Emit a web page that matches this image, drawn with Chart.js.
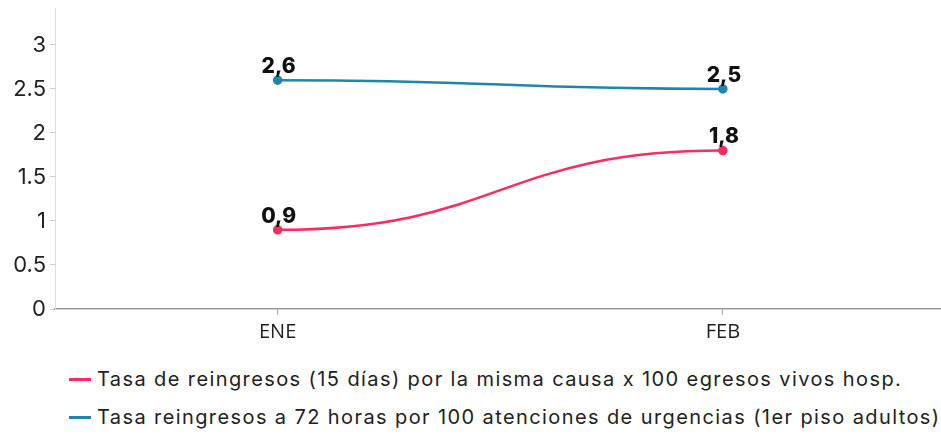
<!DOCTYPE html>
<html>
<head>
<meta charset="utf-8">
<script src="https://cdn.jsdelivr.net/npm/chart.js@4"></script>
<style>
  html, body { margin: 0; padding: 0; background: #fff; overflow: hidden; }
  #wrap { position: relative; width: 941px; height: 436px; overflow: hidden; }
  #chart { position: absolute; left: 0; top: 0; }
  #legend { position: absolute; left: 69px; top: 360px; font-family: Inter, sans-serif; font-size: 20px; letter-spacing: 1.4px; color: #222; }
  .leg-item { display: flex; align-items: center; height: 38px; white-space: nowrap; }
  .leg-mark { width: 22px; height: 3px; margin-right: 6px; }
</style>
</head>
<body>
<div id="wrap">
  <canvas id="chart" width="952" height="360"></canvas>
  <div id="legend"></div>
</div>
<script>
// datos
const meses = ['ENE', 'FEB'];
const reingresos15 = [0.9, 1.8];
const reingresos72 = [2.6, 2.5];
const nombres = [
    'Tasa de reingresos (15 días) por la misma causa x 100 egresos vivos hosp.',
    'Tasa reingresos a 72 horas por 100 atenciones de urgencias (1er piso adultos)'
];
const colores = ['#fb2b5f', '#1d87aa'];

// curva en S con tangentes horizontales (como la original)
const curvaS = {
    id: 'curvaS',
    beforeDatasetDraw(chart, args) {
        const line = args.meta.dataset;
        line.updateControlPoints(chart.chartArea, 'x');
        const pts = args.meta.data;
        for (let i = 0; i < pts.length - 1; i++) {
            const a = pts[i], b = pts[i + 1];
            const dx = (b.x - a.x) * 0.5;
            a.cp2x = a.x + dx; a.cp2y = a.y;
            b.cp1x = b.x - dx; b.cp1y = b.y;
        }
    }
};

// etiquetas de valor sobre los puntos
const etiquetas = {
    id: 'etiquetas',
    afterDatasetsDraw(chart) {
        const ctx = chart.ctx;
        ctx.save();
        ctx.fillStyle = '#111';
        ctx.font = '800 21px Inter, sans-serif';
        ctx.textAlign = 'center';
        ctx.textBaseline = 'bottom';
        chart.data.datasets.forEach((ds, i) => {
            chart.getDatasetMeta(i).data.forEach((p, j) => {
                ctx.fillText(String(ds.data[j]).replace('.', ','), p.x + 1, p.y - 3);
            });
        });
        ctx.restore();
    }
};

const chart = new Chart(document.getElementById('chart'), {
    type: 'line',
    data: {
        labels: meses,
        datasets: [
            {
                label: nombres[0],
                data: reingresos15,
                borderColor: colores[0],
                backgroundColor: colores[0],
                borderWidth: 2.5,
                pointRadius: 3.5,
                tension: 0.4
            },
            {
                label: nombres[1],
                data: reingresos72,
                borderColor: colores[1],
                backgroundColor: colores[1],
                borderWidth: 2.5,
                pointRadius: 3.5,
                tension: 0.4
            }
        ]
    },
    options: {
        responsive: false,
        animation: false,
        layout: { padding: { top: 8, left: 0, right: 0, bottom: 0 } },
        plugins: {
            legend: { display: false },
            tooltip: { enabled: false }
        },
        scales: {
            x: {
                offset: true,
                afterFit: s => { s.height = 51; s.paddingLeft = 0; s.paddingRight = 0; },
                grid: { offset: false, drawOnChartArea: false, tickLength: 6, color: '#aaa' },
                border: { color: '#999', width: 1.5 },
                ticks: { color: '#222', font: { family: 'Open Sans', size: 20 }, padding: 5 }
            },
            y: {
                min: 0,
                max: 3.42,
                afterFit: s => { s.width = 55; s.paddingTop = 0; s.paddingBottom = 0; },
                afterBuildTicks: s => { s.ticks = s.ticks.filter(t => Math.abs(t.value * 2 - Math.round(t.value * 2)) < 1e-6); },
                grid: { drawOnChartArea: false, tickLength: 5, color: '#ccc' },
                border: { color: '#ddd', width: 1 },
                ticks: {
                    stepSize: 0.5,
                    color: '#222',
                    font: { family: 'Inter', size: 22 },
                    padding: 4,
                    callback: v => String(v)
                }
            }
        }
    },
    plugins: [curvaS, etiquetas]
});

// leyenda en html, una fila por serie
const leg = document.getElementById('legend');
chart.data.datasets.forEach(ds => {
    const row = document.createElement('div');
    row.className = 'leg-item';
    row.innerHTML = '<span class="leg-mark" style="background:' + ds.borderColor + '"></span><span>' + ds.label + '</span>';
    leg.appendChild(row);
});
</script>
</body>
</html>
